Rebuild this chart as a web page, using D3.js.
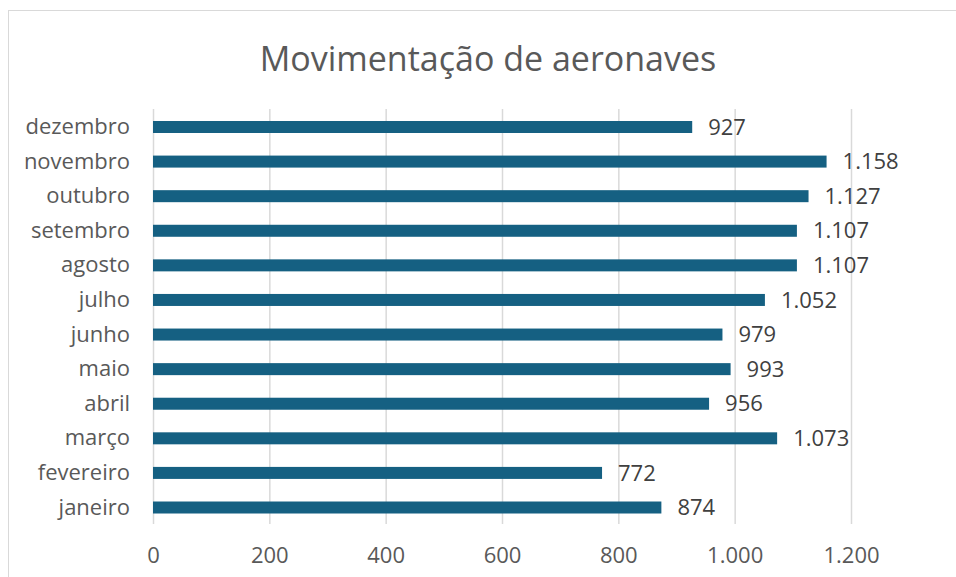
<!DOCTYPE html>
<html>
<head>
<meta charset="utf-8">
<script src="https://cdn.jsdelivr.net/npm/d3@7"></script>
<style>
  body { margin: 0; background: #fff; }
  text { font-family: "Open Sans", sans-serif; }
</style>
</head>
<body>
<script>
let months = ['janeiro','fevereiro','março','abril','maio','junho','julho','agosto','setembro','outubro','novembro','dezembro'];
let values = [874, 772, 1073, 956, 993, 979, 1052, 1107, 1107, 1127, 1158, 927];
let ticks = [0, 200, 400, 600, 800, 1000, 1200];
let title = 'Movimentação de aeronaves';

let w = 956, h = 577;

let data = months.map((m, i) => ({month: m, value: values[i]}));
let fmt = d => d3.format(',')(d).replace(/,/g, '.');

let svg = d3.select('body')
  .append('svg')
  .attr('width', w)
  .attr('height', h);

// chart frame
svg.append('rect')
  .attr('x', 8.5)
  .attr('y', 10.5)
  .attr('width', 1000)
  .attr('height', 1000)
  .attr('fill', '#fff')
  .attr('stroke', '#d9d9d9');

svg.append('text')
  .attr('x', 488)
  .attr('y', 71)
  .attr('text-anchor', 'middle')
  .attr('fill', '#595959')
  .style('font-size', '34px')
  .text(title);

let x = d3.scaleLinear()
  .domain([0, 1200])
  .range([153, 851]);

let y = d3.scaleBand()
  .domain(months.slice().reverse())
  .range([109.7, 524.8])
  .paddingInner(0.653)
  .paddingOuter(0.3265);

// gridlines
svg.append('g')
  .selectAll('line')
  .data(ticks)
  .enter()
  .append('line')
  .attr('x1', d => x(d) + 0.5)
  .attr('x2', d => x(d) + 0.5)
  .attr('y1', 109)
  .attr('y2', 524)
  .attr('stroke', '#d9d9d9')
  .attr('stroke-width', 1.5);

// x axis labels
let xAxis = svg.append('g')
  .attr('transform', 'translate(0,545)')
  .call(d3.axisBottom(x).tickValues(ticks).tickSize(0).tickPadding(0).tickFormat(fmt));
xAxis.select('.domain').remove();
xAxis.selectAll('text')
  .attr('fill', '#595959')
  .attr('dy', '0.35em')
  .attr('y', 10)
  .style('font-size', '22px')
  .style('font-family', '"Open Sans", sans-serif');

// y axis labels
let yAxis = svg.append('g')
  .attr('transform', 'translate(130,0)')
  .call(d3.axisLeft(y).tickSize(0).tickPadding(0));
yAxis.select('.domain').remove();
yAxis.selectAll('text')
  .attr('fill', '#595959')
  .style('font-size', '22px')
  .style('font-family', '"Open Sans", sans-serif');

// bars
svg.append('g')
  .selectAll('rect')
  .data(data)
  .enter()
  .append('rect')
  .attr('x', x(0))
  .attr('y', d => y(d.month))
  .attr('width', d => x(d.value) - x(0))
  .attr('height', y.bandwidth())
  .attr('fill', '#156082');

// value labels
svg.append('g')
  .selectAll('text')
  .data(data)
  .enter()
  .append('text')
  .attr('x', d => x(d.value) + 16)
  .attr('y', d => y(d.month) + y.bandwidth() / 2)
  .attr('dy', '0.35em')
  .attr('fill', '#404040')
  .style('font-size', '22px')
  .text(d => fmt(d.value));
</script>
</body>
</html>
